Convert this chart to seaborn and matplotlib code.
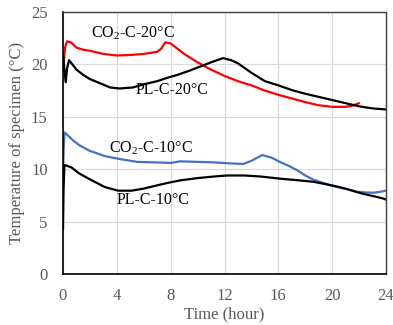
import numpy as np
import pandas as pd
import matplotlib
matplotlib.use("Agg")
import matplotlib.pyplot as plt
import seaborn as sns

# ---- data ----
t_co2_20 = [0.0, 0.08, 0.15, 0.3, 0.6, 1.0, 1.5, 2.0, 3.0, 4.0, 5.0, 6.0, 7.0, 7.3, 7.6, 8.0,
            8.5, 9.0, 9.5, 10.0, 11.0, 12.0, 13.0, 14.0, 15.0, 16.0, 17.0, 18.0, 19.0, 20.0,
            21.0, 21.6, 22.0]
v_co2_20 = [19.4, 20.5, 21.6, 22.2, 22.1, 21.6, 21.4, 21.3, 21.0, 20.85, 20.9, 21.0, 21.2, 21.5,
            22.1, 22.0, 21.5, 21.0, 20.6, 20.2, 19.5, 18.9, 18.4, 18.0, 17.5, 17.1, 16.75, 16.4,
            16.1, 15.95, 15.95, 16.1, 16.3]

t_pl_20 = [0.0, 0.1, 0.2, 0.3, 0.45, 0.7, 1.0, 1.5, 2.0, 2.75, 3.5, 4.2, 5.2, 6.0, 7.0, 7.7,
           8.5, 9.4, 10.2, 11.0, 11.9, 12.5, 13.0, 14.0, 15.0, 16.0, 17.0, 18.0, 19.0, 20.0,
           21.0, 22.0, 23.0, 24.0]
v_pl_20 = [21.0, 19.6, 18.3, 19.6, 20.4, 20.0, 19.5, 19.0, 18.6, 18.2, 17.8, 17.7, 17.8, 18.1,
           18.4, 18.7, 19.0, 19.4, 19.8, 20.2, 20.6, 20.4, 20.1, 19.2, 18.4, 18.0, 17.55, 17.2,
           16.9, 16.6, 16.3, 16.0, 15.8, 15.7]

t_co2_10 = [0.0, 0.05, 0.12, 0.3, 0.7, 1.2, 1.9, 3.1, 4.3, 5.5, 6.8, 8.0, 8.7, 10.0, 11.2,
            12.5, 13.4, 14.0, 14.8, 15.5, 16.1, 16.8, 17.4, 18.0, 18.6, 19.2, 19.8, 20.5, 21.1,
            21.8, 22.5, 23.1, 23.6, 24.0]
v_co2_10 = [9.0, 12.0, 13.5, 13.3, 12.8, 12.3, 11.8, 11.25, 10.95, 10.7, 10.65, 10.6, 10.75,
            10.7, 10.65, 10.55, 10.5, 10.8, 11.35, 11.1, 10.7, 10.3, 9.9, 9.4, 9.0, 8.75, 8.5,
            8.3, 8.1, 7.85, 7.78, 7.76, 7.85, 7.95]

t_pl_10 = [0.0, 0.04, 0.1, 0.15, 0.65, 1.2, 1.9, 3.1, 4.1, 5.1, 6.0, 6.8, 7.8, 8.8, 10.0,
           11.2, 12.2, 13.5, 14.7, 16.1, 17.4, 18.6, 19.8, 21.1, 22.3, 23.0, 23.8, 24.0]
v_pl_10 = [4.2, 8.0, 10.2, 10.4, 10.15, 9.6, 9.1, 8.3, 7.95, 7.95, 8.15, 8.4, 8.7, 8.95, 9.15,
           9.3, 9.4, 9.4, 9.3, 9.1, 8.95, 8.8, 8.5, 8.1, 7.65, 7.45, 7.2, 7.1]

series_names = ["CO$_2$-C-20°C", "PL-C-20°C", "CO$_2$-C-10°C", "PL-C-10°C"]
series_colors = ["#ff0000", "#000000", "#4472c4", "#000000"]
x_ticks = [0, 4, 8, 12, 16, 20, 24]
y_ticks = [0, 5, 10, 15, 20, 25]

frames = []
for i, (tt, vv) in enumerate([(t_co2_20, v_co2_20), (t_pl_20, v_pl_20),
                               (t_co2_10, v_co2_10), (t_pl_10, v_pl_10)]):
    frames.append(pd.DataFrame({"time": tt, "temp": vv, "series": i}))
df = pd.concat(frames, ignore_index=True)

sns.set_style("white")
plt.rcParams["font.family"] = ["Liberation Serif", "DejaVu Serif"]
plt.rcParams["mathtext.fontset"] = "custom"
plt.rcParams["mathtext.rm"] = "Liberation Serif"

fig = plt.figure(figsize=(3.93, 3.25), dpi=100)
ax = fig.add_axes([63 / 393, 1 - 274 / 325, (386 - 63) / 393, (274 - 12) / 325])

for i in range(4):
    sub = df[df["series"] == i]
    sns.lineplot(data=sub, x="time", y="temp", ax=ax, color=series_colors[i],
                 linewidth=1.6, sort=False, estimator=None, legend=False)

ax.set_xlim(0, 24)
ax.set_ylim(0, 25)
ax.set_xticks(x_ticks)
ax.set_yticks(y_ticks)
ax.grid(True, color="#d9d9d9", linewidth=0.9)
ax.set_axisbelow(True)
for s in ["left", "bottom"]:
    ax.spines[s].set_color("black")
    ax.spines[s].set_linewidth(1.2)
for s in ["top", "right"]:
    ax.spines[s].set_color("#404040")
    ax.spines[s].set_linewidth(1.0)
ax.tick_params(axis="x", length=0, labelsize=12, labelcolor="#595959", pad=10)
ax.tick_params(axis="y", length=0, labelsize=12, labelcolor="#595959", pad=11)
ax.set_xlabel("Time (hour)", fontsize=12, color="#595959", labelpad=2)
ax.set_ylabel("Temperature of specimen (°C)", fontsize=12, color="#595959", labelpad=4)

label_pos = [(5.2, 23.0), (8.1, 17.6), (6.5, 12.0), (6.7, 7.1)]
for name, (x, y) in zip(series_names, label_pos):
    ax.text(x, y, name, fontsize=11.5, color="black", ha="center", va="center")

fig.savefig("out.png", dpi=100)
